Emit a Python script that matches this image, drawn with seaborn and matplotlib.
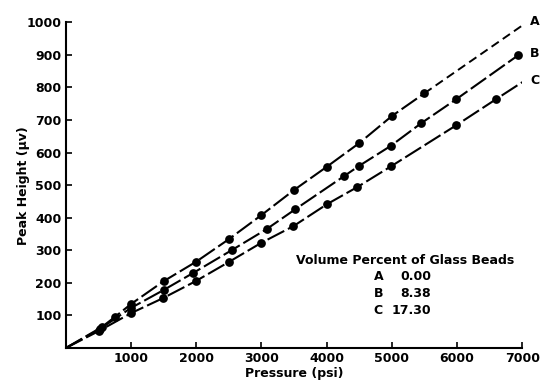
import matplotlib
matplotlib.use("Agg")
import matplotlib.pyplot as plt
import seaborn as sns
import pandas as pd

# ---- data ----
A_pressure = [0, 550, 750, 1000, 1500, 2000, 2500, 3000, 3500, 4000, 4500, 5000, 5500]
A_height   = [0, 64, 95, 135, 205, 265, 334, 408, 485, 556, 629, 712, 782]
A_ext_pressure = [5500, 7000]
A_ext_height   = [782, 990]

B_pressure = [0, 520, 1000, 1500, 1950, 2550, 3080, 3520, 4270, 4490, 4980, 5450, 5990, 6940]
B_height   = [0, 58, 123, 178, 230, 301, 365, 426, 528, 558, 620, 690, 764, 899]

C_pressure = [0, 505, 1000, 1490, 1990, 2500, 2990, 3490, 4010, 4470, 4990, 5990, 6600, 7000]
C_height   = [0, 52, 107, 153, 205, 264, 322, 374, 442, 494, 558, 684, 764, 816]
C_marked   = [False, True, True, True, True, True, True, True, True, True, True, True, True, False]

x_ticks = [1000, 2000, 3000, 4000, 5000, 6000, 7000]
y_ticks = [100, 200, 300, 400, 500, 600, 700, 800, 900, 1000]

curve_labels = ["A", "B", "C"]
legend_title = "Volume Percent of Glass Beads"
legend_letters = ["A", "B", "C"]
legend_values = ["0.00", "8.38", "17.30"]

sns.set_style("ticks")
plt.rcParams['font.family'] = ['DejaVu Sans']
plt.rcParams['font.weight'] = 'bold'
for k in ('text.color', 'axes.labelcolor', 'xtick.color', 'ytick.color', 'axes.edgecolor'):
    plt.rcParams[k] = 'black'

fig = plt.figure(figsize=(5.44, 3.81), dpi=100)
ax = fig.add_axes([0.121, 0.0866, 0.839, 0.855])

dash = (9, 2)
lw = 1.5
ms = 6.3

dfA = pd.DataFrame({"p": A_pressure, "h": A_height})
dfB = pd.DataFrame({"p": B_pressure, "h": B_height})
dfC = pd.DataFrame({"p": C_pressure, "h": C_height, "m": C_marked})
dfAe = pd.DataFrame({"p": A_ext_pressure, "h": A_ext_height})

for df in (dfA, dfB, dfC):
    sns.lineplot(data=df, x="p", y="h", ax=ax, color="black", lw=lw,
                 sort=False, estimator=None)
for l in ax.get_lines():
    l.set_dashes(dash)
sns.lineplot(data=dfAe, x="p", y="h", ax=ax, color="black", lw=1.4,
             sort=False, estimator=None)
ax.get_lines()[-1].set_dashes((4.5, 2.5))

for df in (dfA.iloc[1:], dfB.iloc[1:], dfC[dfC["m"]]):
    sns.scatterplot(data=df, x="p", y="h", ax=ax, color="black", s=ms**2,
                    edgecolor="black", linewidth=0, zorder=5)

ends = [(7120, 1003), (7120, 905), (7120, 822)]
for lab, (xx, yy) in zip(curve_labels, ends):
    ax.text(xx, yy, lab, fontsize=9, fontweight='bold', ha='left', va='center',
            clip_on=False)

ax.text(5210, 270, legend_title, fontsize=9, fontweight='bold', ha='center', va='center')
for i, (lt, val) in enumerate(zip(legend_letters, legend_values)):
    yy = 218 - i * 52
    ax.text(4720, yy, lt, fontsize=9, fontweight='bold', ha='left', va='center')
    ax.text(5600, yy, val, fontsize=9, fontweight='bold', ha='right', va='center')

ax.set_xlim(0, 7000)
ax.set_ylim(0, 1000)
ax.set_xticks(x_ticks)
ax.set_yticks(y_ticks)
ax.tick_params(direction='in', length=4, width=1.2, labelsize=9, pad=3)
for t in ax.get_xticklabels() + ax.get_yticklabels():
    t.set_fontweight('bold')
ax.set_xlabel("Pressure (psi)", fontsize=9, fontweight='bold', labelpad=1)
ax.set_ylabel("Peak Height (\u03bcv)", fontsize=9, fontweight='bold', labelpad=-2.5)
sns.despine(ax=ax)
for s in ("left", "bottom"):
    ax.spines[s].set_linewidth(1.5)

fig.savefig("out.png", dpi=100)
